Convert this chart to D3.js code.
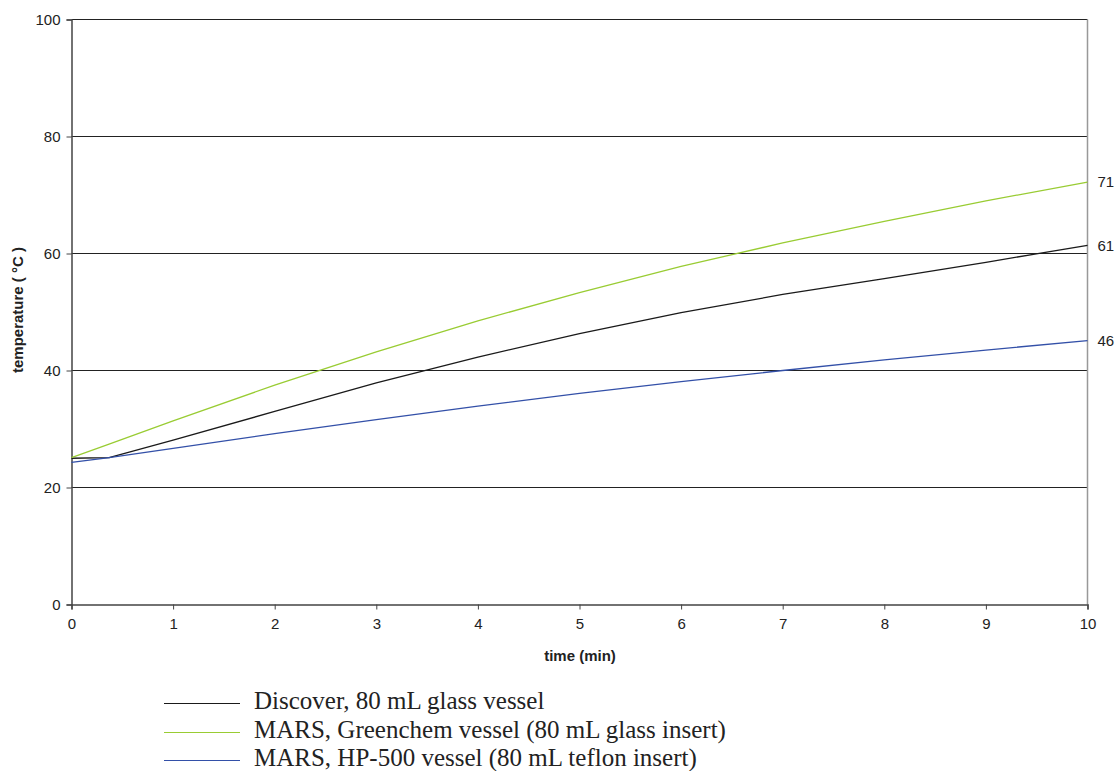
<!DOCTYPE html>
<html><head><meta charset="utf-8">
<script src="https://cdn.jsdelivr.net/npm/d3@7"></script>
<style>body{margin:0;background:#fff}svg{display:block}</style>
</head><body>
<svg id="c" width="1118" height="771"></svg>
<script>
const times = [0, 0.37, 1, 2, 3, 4, 5, 6, 7, 8, 9, 10];
const discover = [25.0, 25.1, 28.1, 33.0, 37.9, 42.3, 46.3, 49.9, 53.0, 55.7, 58.5, 61.4];
const greenchem = [25.1, 27.4, 31.4, 37.5, 43.2, 48.5, 53.3, 57.8, 61.8, 65.5, 69.0, 72.2];
const hp500 = [24.3, 25.1, 26.7, 29.2, 31.6, 33.9, 36.1, 38.1, 40.0, 41.8, 43.5, 45.1];
const seriesNames = ["Discover, 80 mL glass vessel", "MARS, Greenchem vessel (80 mL glass insert)", "MARS, HP-500 vessel (80 mL teflon insert)"];
const endLabels = ["61", "71", "46"];
const xTicks = [0,1,2,3,4,5,6,7,8,9,10];
const yTicks = [0,20,40,60,80,100];
const colors = ["#1a1a1a", "#99cc33", "#3350a8"];

const series = [discover, greenchem, hp500];
const svg = d3.select("#c");
const x = d3.scaleLinear().domain([0,10]).range([71.5, 1087.5]);
const y = d3.scaleLinear().domain([0,100]).range([604.5, 19.5]);
const sans = "Liberation Sans, Arial, Helvetica, sans-serif";

// gridlines
svg.append("g").selectAll("line").data(yTicks.filter(d=>d>0)).join("line")
  .attr("x1", x(0)).attr("x2", x(10)).attr("y1", d=>y(d)).attr("y2", d=>y(d))
  .attr("stroke", "#222").attr("stroke-width", 1);
// right border
svg.append("line").attr("x1", x(10)).attr("x2", x(10)).attr("y1", y(100)).attr("y2", y(0))
  .attr("stroke", "#999").attr("stroke-width", 1.5);

// axes
const yAxis = svg.append("g").attr("transform", `translate(${x(0)},0)`)
  .call(d3.axisLeft(y).tickValues(yTicks).tickSize(5).tickPadding(6));
const xAxis = svg.append("g").attr("transform", `translate(0,${y(0)})`)
  .call(d3.axisBottom(x).tickValues(xTicks).tickSize(5).tickPadding(9));
[yAxis, xAxis].forEach(a => {
  a.select(".domain").attr("stroke", "#444").attr("stroke-width", 1.5);
  a.selectAll(".tick line").attr("stroke", "#444");
  a.selectAll("text").attr("font-family", sans).attr("font-size", 15).attr("fill", "#222");
});

// lines
const line = d3.line().x((d,i)=>x(times[i])).y(d=>y(d));
svg.append("g").selectAll("path").data(series).join("path")
  .attr("d", d=>line(d)).attr("fill", "none")
  .attr("stroke", (d,i)=>colors[i]).attr("stroke-width", 1.3).attr("stroke-linejoin", "round");

// end labels
svg.append("g").selectAll("text").data(series).join("text")
  .attr("x", x(10) + 10).attr("y", d=>y(d[d.length-1]))
  .attr("dy", "0.35em")
  .attr("font-family", sans).attr("font-size", 15).attr("fill", "#222")
  .text((d,i)=>endLabels[i]);

// axis titles
svg.append("text").attr("x", 580).attr("y", 661)
  .attr("text-anchor", "middle").attr("font-family", sans)
  .attr("font-size", 15).attr("font-weight", "bold").attr("fill", "#222").text("time (min)");
svg.append("text").attr("transform", "translate(23,310) rotate(-90)")
  .attr("text-anchor", "middle").attr("font-family", sans)
  .attr("font-size", 15).attr("font-weight", "bold").attr("fill", "#222").text("temperature ( °C )");

// legend
const lg = svg.append("g");
const rowY = [703, 732, 760];
seriesNames.forEach((n,i) => {
  lg.append("line").attr("x1", 164).attr("x2", 240).attr("y1", rowY[i]+0.5).attr("y2", rowY[i]+0.5)
    .attr("stroke", colors[i]).attr("stroke-width", 1.2);
  lg.append("text").attr("x", 254).attr("y", rowY[i] + 6)
    .attr("font-family", "Liberation Serif, Times New Roman, serif").attr("font-size", 25)
    .attr("fill", "#222").text(n);
});
</script>
</body></html>
